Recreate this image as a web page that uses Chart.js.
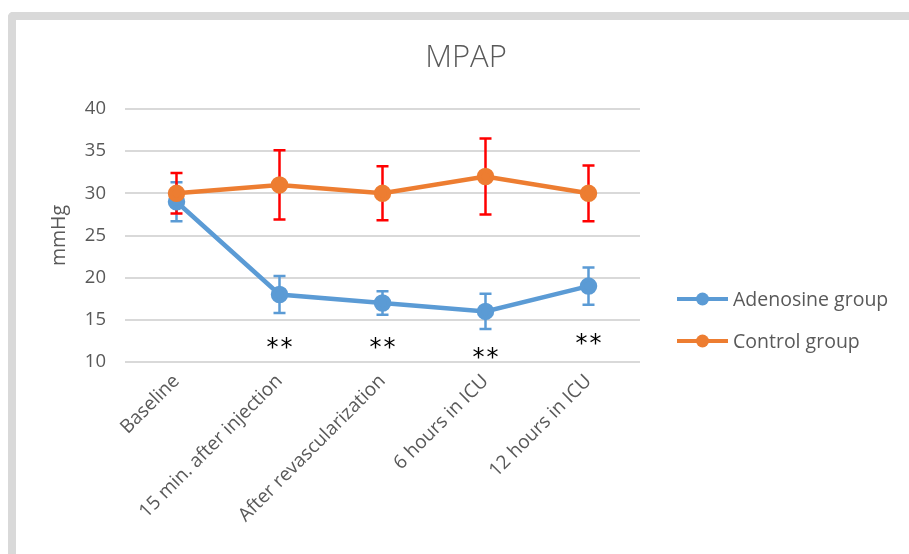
<!DOCTYPE html>
<html>
<head>
<meta charset="utf-8">
<script src="https://cdn.jsdelivr.net/npm/chart.js@4"></script>
<style>
  html, body { margin: 0; padding: 0; background: #fff; overflow: hidden; }
  #wrap { position: relative; width: 909px; height: 554px; }
  #frame {
    position: absolute; left: 8px; top: 12px; width: 940px; height: 600px;
    border-left: 8px solid #d9d9d9; border-top: 8px solid #d9d9d9;
    border-top-left-radius: 5px; pointer-events: none;
  }
  canvas { position: absolute; left: 0; top: 0; }
</style>
</head>
<body>
<div id="wrap">
  <canvas id="mpapChart" width="909" height="554"></canvas>
  <div id="frame"></div>
</div>
<script>
  var labels = ['Baseline', '15 min. after injection', 'After revascularization', '6 hours in ICU', '12 hours in ICU'];
  var adenosine = [29, 18, 17, 16, 19];
  var adenosineErr = [2.3, 2.2, 1.4, 2.1, 2.2];
  var control = [30, 31, 30, 32, 30];
  var controlErr = [2.4, 4.1, 3.2, 4.5, 3.3];
  // "**" marks under the adenosine points, y in mmHg
  var sigMarks = [null, 12.4, 12.4, 11.2, 12.8];
  var yTicks = [10, 15, 20, 25, 30, 35, 40];

  var BLUE = '#5b9bd5';
  var ORANGE = '#ed7d31';
  var TEXT = '#595959';
  var FONT = "'Open Sans', 'Noto Sans', sans-serif";

  var extras = {
    id: 'extras',
    beforeDatasetsDraw: function (chart) {
      var ctx = chart.ctx;
      var x = chart.scales.x, y = chart.scales.y;
      var sets = [[adenosine, adenosineErr, BLUE], [control, controlErr, '#ff0000']];
      ctx.save();
      sets.forEach(function (s) {
        ctx.strokeStyle = s[2];
        ctx.lineWidth = 2.5;
        s[0].forEach(function (v, i) {
          var px = x.getPixelForValue(i);
          var top = y.getPixelForValue(v + s[1][i]);
          var bot = y.getPixelForValue(v - s[1][i]);
          ctx.beginPath();
          ctx.moveTo(px, top); ctx.lineTo(px, bot);
          ctx.moveTo(px - 6, top); ctx.lineTo(px + 6, top);
          ctx.moveTo(px - 6, bot); ctx.lineTo(px + 6, bot);
          ctx.stroke();
        });
      });
      ctx.restore();
    },
    afterDraw: function (chart) {
      var ctx = chart.ctx;
      var x = chart.scales.x, y = chart.scales.y;
      ctx.save();
      // title, centred on the whole figure
      ctx.fillStyle = TEXT;
      ctx.font = '300 31px ' + FONT;
      ctx.textAlign = 'center';
      ctx.textBaseline = 'middle';
      ctx.fillText('MPAP', 466, 58);
      // significance stars
      ctx.fillStyle = '#000';
      ctx.font = "24px 'DejaVu Sans', sans-serif";
      ctx.textBaseline = 'alphabetic';
      sigMarks.forEach(function (v, i) {
        if (v === null) return;
        var px = x.getPixelForValue(i);
        var py = y.getPixelForValue(v) + 13;
        ctx.fillText('*', px - 7, py);
        ctx.fillText('*', px + 7, py);
      });
      // legend on the right
      var items = [['Adenosine group', BLUE], ['Control group', ORANGE]];
      ctx.font = '19.5px ' + FONT;
      ctx.textAlign = 'left';
      ctx.textBaseline = 'middle';
      items.forEach(function (it, k) {
        var ly = 299 + k * 42;
        ctx.strokeStyle = it[1];
        ctx.lineWidth = 4;
        ctx.beginPath();
        ctx.moveTo(677, ly); ctx.lineTo(728, ly);
        ctx.stroke();
        ctx.fillStyle = it[1];
        ctx.beginPath();
        ctx.arc(702.5, ly, 6.5, 0, Math.PI * 2);
        ctx.fill();
        ctx.fillStyle = TEXT;
        ctx.fillText(it[0], 733, ly + 1);
      });
      ctx.restore();
    }
  };

  new Chart(document.getElementById('mpapChart'), {
    type: 'line',
    data: {
      labels: labels,
      datasets: [{
        label: 'Adenosine group',
        data: adenosine,
        borderColor: BLUE,
        backgroundColor: BLUE,
        borderWidth: 4.5,
        pointRadius: 6.5,
        pointHoverRadius: 6.5,
        order: 1
      }, {
        label: 'Control group',
        data: control,
        borderColor: ORANGE,
        backgroundColor: ORANGE,
        borderWidth: 4.5,
        pointRadius: 6.5,
        pointHoverRadius: 6.5,
        order: 0
      }]
    },
    options: {
      responsive: false,
      animation: false,
      layout: { padding: { left: 48, right: 269, top: 109, bottom: 10 } },
      plugins: {
        legend: { display: false },
        tooltip: { enabled: false },
        title: { display: false }
      },
      scales: {
        x: {
          offset: true,
          grid: { display: false, drawTicks: false },
          border: { display: false },
          ticks: {
            color: TEXT,
            font: { family: FONT, size: 19 },
            minRotation: 45,
            maxRotation: 45,
            padding: 8
          },
          afterFit: function (s) { s.height = 182; }
        },
        y: {
          min: 10,
          max: 40,
          afterBuildTicks: function (s) {
            s.ticks = yTicks.map(function (v) { return { value: v }; });
          },
          grid: { color: '#d9d9d9', lineWidth: 2, drawTicks: false },
          border: { display: false },
          ticks: {
            color: TEXT,
            font: { family: FONT, size: 18.5 },
            padding: 19
          },
          title: {
            display: true,
            text: 'mmHg',
            color: TEXT,
            font: { family: FONT, size: 19.5 },
            padding: { top: 0, bottom: 0 }
          },
          afterFit: function (s) { s.width = 77; }
        }
      }
    },
    plugins: [extras]
  });
</script>
</body>
</html>
